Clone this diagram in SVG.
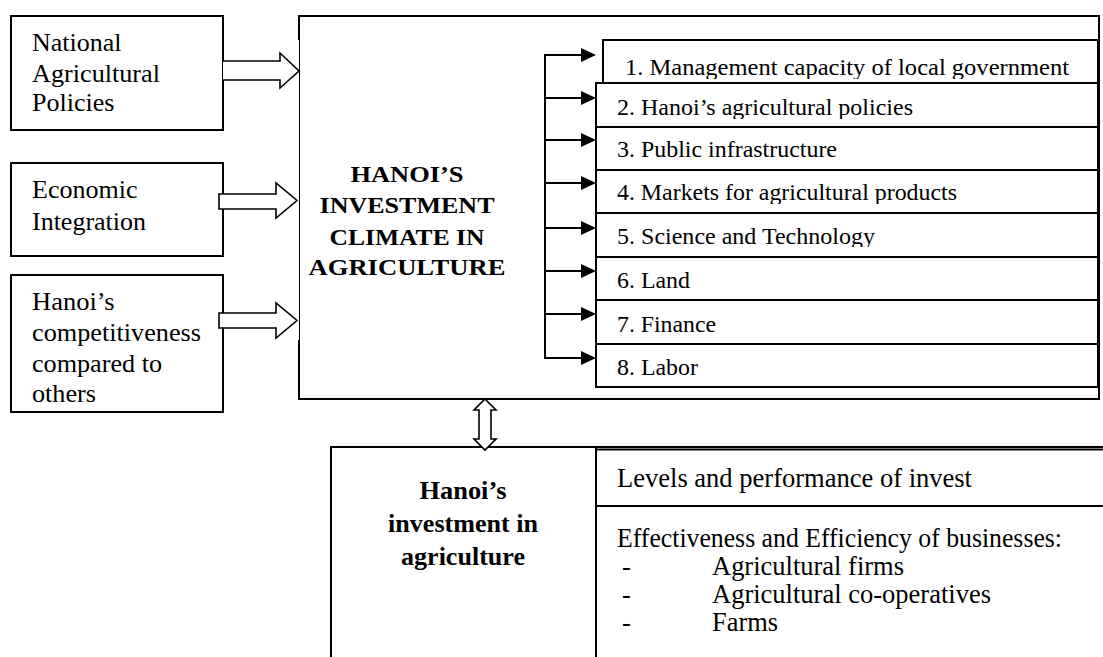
<svg xmlns="http://www.w3.org/2000/svg" width="1103" height="657" viewBox="0 0 1103 657">
  <style>
    .box { fill: #fff; stroke: #000; stroke-width: 2; }
    .line { fill: none; stroke: #000; stroke-width: 2; }
    .thin { fill: none; stroke: #000; stroke-width: 1; }
    .block { fill: #fff; stroke: #000; stroke-width: 1.6; stroke-linejoin: miter; }
    text { fill: #000; }
    .side { font-size: 26px; }
    .item { font-size: 23px; }
    .title { font-size: 23.5px; font-weight: bold; text-anchor: middle; }
    .sub { font-size: 26px; font-weight: bold; text-anchor: middle; }
    .cell { font-size: 26.5px; }
    .head { fill: #000; stroke: none; }
  </style>
  <defs>
    <!-- clipping that trims descenders of the factor labels, as in the text boxes -->
    <clipPath id="c1"><rect x="600" y="41" width="498" height="38"/></clipPath>
    <clipPath id="c2"><rect x="597" y="84" width="500" height="35"/></clipPath>
    <clipPath id="c3"><rect x="597" y="128" width="500" height="33"/></clipPath>
    <clipPath id="c4"><rect x="597" y="171" width="500" height="33"/></clipPath>
    <clipPath id="c5"><rect x="597" y="214" width="500" height="33"/></clipPath>
    <clipPath id="c6"><rect x="597" y="258" width="500" height="33"/></clipPath>
    <clipPath id="c7"><rect x="597" y="301" width="500" height="34"/></clipPath>
    <clipPath id="c8"><rect x="597" y="345" width="500" height="34"/></clipPath>
  </defs>
  <rect width="1103" height="657" fill="#fff"/>

  <g font-family="Liberation Serif, serif">
  <!-- external factors -->
  <g id="national-policies">
    <rect class="box" x="11" y="16" width="212" height="114"/>
    <text class="side" x="32" y="51" textLength="89.5" lengthAdjust="spacingAndGlyphs">National</text>
    <text class="side" x="32" y="82" textLength="128" lengthAdjust="spacingAndGlyphs">Agricultural</text>
    <text class="side" x="32" y="111" textLength="82.5" lengthAdjust="spacingAndGlyphs">Policies</text>
  </g>
  <g id="economic-integration">
    <rect class="box" x="11" y="163" width="212" height="93"/>
    <text class="side" x="32" y="198" textLength="105.5" lengthAdjust="spacingAndGlyphs">Economic</text>
    <text class="side" x="32" y="230" textLength="114" lengthAdjust="spacingAndGlyphs">Integration</text>
  </g>
  <g id="competitiveness">
    <rect class="box" x="11" y="275" width="212" height="137"/>
    <text class="side" x="32" y="310" textLength="82.5" lengthAdjust="spacingAndGlyphs">Hanoi’s</text>
    <text class="side" x="32" y="341" textLength="169" lengthAdjust="spacingAndGlyphs">competitiveness</text>
    <text class="side" x="32" y="372" textLength="130" lengthAdjust="spacingAndGlyphs">compared to</text>
    <text class="side" x="32" y="402" textLength="64" lengthAdjust="spacingAndGlyphs">others</text>
  </g>

  <!-- investment climate frame -->
  <g id="investment-climate">
    <path class="line" d="M299,16 H1099 V399 H299"/>
    <path class="line" d="M299,15 V40 M299,340 V400"/>
    <path class="thin" d="M299.5,40 V340"/>
    <text class="title" x="407" y="182" textLength="113" lengthAdjust="spacingAndGlyphs">HANOI’S</text>
    <text class="title" x="407" y="213" textLength="175" lengthAdjust="spacingAndGlyphs">INVESTMENT</text>
    <text class="title" x="407" y="245" textLength="155" lengthAdjust="spacingAndGlyphs">CLIMATE IN</text>
    <text class="title" x="407" y="275" textLength="197" lengthAdjust="spacingAndGlyphs">AGRICULTURE</text>
  </g>

  <!-- factor list -->
  <g id="factor-1">
    <rect class="box" x="603" y="40" width="495" height="43"/>
    <text class="item" x="625" y="75" clip-path="url(#c1)" textLength="444" lengthAdjust="spacingAndGlyphs">1. Management capacity of local government</text>
  </g>
  <g id="factor-2">
    <rect class="box" x="596" y="83" width="502" height="44"/>
    <text class="item" x="617" y="115" clip-path="url(#c2)" textLength="296" lengthAdjust="spacingAndGlyphs">2. Hanoi’s agricultural policies</text>
  </g>
  <g id="factor-3">
    <rect class="box" x="596" y="127" width="502" height="43"/>
    <text class="item" x="617" y="157" clip-path="url(#c3)" textLength="220" lengthAdjust="spacingAndGlyphs">3. Public infrastructure</text>
  </g>
  <g id="factor-4">
    <rect class="box" x="596" y="170" width="502" height="43"/>
    <text class="item" x="617" y="200" clip-path="url(#c4)" textLength="340" lengthAdjust="spacingAndGlyphs">4. Markets for agricultural products</text>
  </g>
  <g id="factor-5">
    <rect class="box" x="596" y="213" width="502" height="44"/>
    <text class="item" x="617" y="244" clip-path="url(#c5)" textLength="258" lengthAdjust="spacingAndGlyphs">5. Science and Technology</text>
  </g>
  <g id="factor-6">
    <rect class="box" x="596" y="257" width="502" height="43"/>
    <text class="item" x="617" y="288" clip-path="url(#c6)" textLength="73" lengthAdjust="spacingAndGlyphs">6. Land</text>
  </g>
  <g id="factor-7">
    <rect class="box" x="596" y="300" width="502" height="44"/>
    <text class="item" x="617" y="332" clip-path="url(#c7)" textLength="99" lengthAdjust="spacingAndGlyphs">7. Finance</text>
  </g>
  <g id="factor-8">
    <rect class="box" x="596" y="344" width="502" height="43"/>
    <text class="item" x="617" y="375" clip-path="url(#c8)" textLength="81" lengthAdjust="spacingAndGlyphs">8. Labor</text>
  </g>

  <!-- investment outcomes -->
  <g id="investment-outcomes">
    <path class="line" d="M331,447 H1103 M331,446 V657 M596,447 V657 M596,506 H1103"/>
    <path class="line" d="M596,449.5 H1103" stroke-width="1"/>
    <text class="sub" x="463" y="499" textLength="87" lengthAdjust="spacingAndGlyphs">Hanoi’s</text>
    <text class="sub" x="463" y="532" textLength="150" lengthAdjust="spacingAndGlyphs">investment in</text>
    <text class="sub" x="463" y="565" textLength="124" lengthAdjust="spacingAndGlyphs">agriculture</text>
    <text class="cell" x="617" y="487" textLength="355" lengthAdjust="spacingAndGlyphs">Levels and performance of invest</text>
    <text class="cell" x="617" y="547" textLength="445" lengthAdjust="spacingAndGlyphs">Effectiveness and Efficiency of businesses:</text>
    <text class="cell" x="622" y="575">-</text>
    <text class="cell" x="712" y="575" textLength="192" lengthAdjust="spacingAndGlyphs">Agricultural firms</text>
    <text class="cell" x="622" y="603">-</text>
    <text class="cell" x="712" y="603" textLength="279" lengthAdjust="spacingAndGlyphs">Agricultural co-operatives</text>
    <text class="cell" x="622" y="631">-</text>
    <text class="cell" x="712" y="631" textLength="66" lengthAdjust="spacingAndGlyphs">Farms</text>
  </g>
  </g>

  <!-- connectors -->
  <g id="connectors">
    <!-- block arrows from external factors -->
    <path class="block" d="M223,61 H280 V53 L299,71 L280,88 V80 H223"/>
    <path class="block" d="M219,194 H276 V183 L297,200.5 L276,218 V209 H219 Z"/>
    <path class="block" d="M219,313 H276 V303 L297,320.5 L276,338 V328 H219 Z"/>
    <!-- two-way link between climate and investment -->
    <path class="block" d="M485,399 L496,410 H491 V439 H496 L485,450 L474,439 H479 V410 H474 Z"/>
    <!-- distribution bar to the eight factors -->
    <path class="line" d="M545,54 V359"/>
    <path class="line" d="M544,55 H583 M544,98 H583 M544,140 H583 M544,183 H583 M544,228 H583 M544,271 H583 M544,314 H583 M544,358 H583"/>
    <path class="head" d="M581,48 L596,55 L581,62 Z M581,91 L596,98 L581,105 Z M581,133 L596,140 L581,147 Z M581,176 L596,183 L581,190 Z M581,221 L596,228 L581,235 Z M581,264 L596,271 L581,278 Z M581,307 L596,314 L581,321 Z M581,351 L596,358 L581,365 Z"/>
  </g>
</svg>
